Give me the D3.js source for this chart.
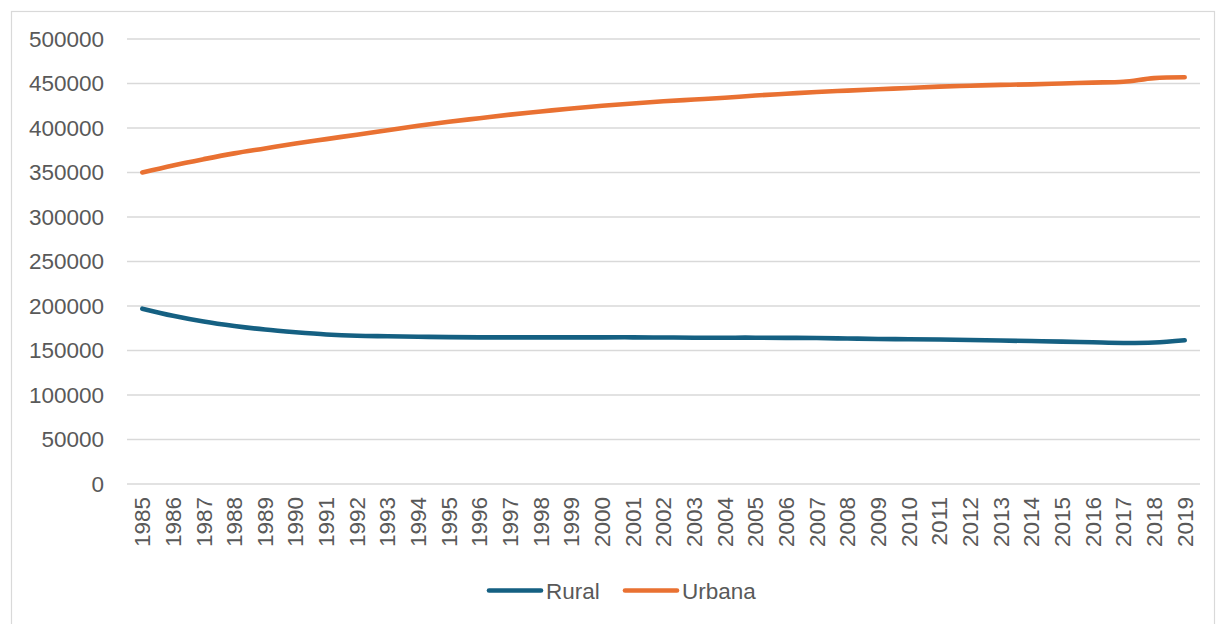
<!DOCTYPE html>
<html>
<head>
<meta charset="utf-8">
<script src="https://cdn.jsdelivr.net/npm/d3@7"></script>
<style>
  html, body { margin: 0; padding: 0; background: #fff; }
  svg { display: block; font-family: "Liberation Sans", Arial, sans-serif; }
</style>
</head>
<body>
<svg id="chart" width="1216" height="624"></svg>
<script>
// Population by area, 1985–2019
const years = ["1985","1986","1987","1988","1989","1990","1991","1992","1993","1994",
  "1995","1996","1997","1998","1999","2000","2001","2002","2003","2004",
  "2005","2006","2007","2008","2009","2010","2011","2012","2013","2014",
  "2015","2016","2017","2018","2019"];

const rural = [197000,189000,182500,177500,173500,170500,168000,166500,166000,165500,
  165000,164800,164800,164800,164800,164800,164800,164600,164400,164400,
  164400,164200,164000,163500,163000,162700,162300,161800,161200,160600,
  160000,159200,158500,159000,161500];

const urbana = [350000,358000,365000,371500,377000,382500,387500,392500,397500,402500,
  407000,411000,415000,418500,422000,425000,427500,430000,432000,434000,
  436500,438500,440500,442000,443500,445000,446500,447500,448500,449000,
  450000,451000,452000,456000,457000];

const yTicks = [0,50000,100000,150000,200000,250000,300000,350000,400000,450000,500000];

const seriesNames = ["Rural", "Urbana"];
const seriesColors = ["#156082", "#E97132"];
const seriesValues = [rural, urbana];

const svg = d3.select("#chart");
const textColor = "#595959";
const gridColor = "#d9d9d9";
const fontSize = 22.5;

// chart frame
svg.append("rect")
  .attr("x", 11.5).attr("y", 11.5)
  .attr("width", 1203).attr("height", 640)
  .attr("fill", "#fff")
  .attr("stroke", gridColor).attr("stroke-width", 1.2);

const plot = { left: 127, right: 1200, top: 39, bottom: 484 };

const x = d3.scaleBand().domain(years).range([plot.left, plot.right]).padding(0);
const y = d3.scaleLinear().domain([0, 500000]).range([plot.bottom, plot.top]);
const xc = d => x(d) + x.bandwidth() / 2;

// horizontal gridlines
svg.append("g")
  .selectAll("line")
  .data(yTicks)
  .join("line")
  .attr("x1", plot.left).attr("x2", plot.right)
  .attr("y1", d => y(d)).attr("y2", d => y(d))
  .attr("stroke", gridColor).attr("stroke-width", 1.3);

// y axis labels
const yAxis = d3.axisLeft(y).tickValues(yTicks).tickSize(0).tickPadding(0)
  .tickFormat(d3.format("d"));
const gy = svg.append("g").attr("transform", "translate(104,0)").call(yAxis);
gy.select(".domain").remove();
gy.selectAll("text")
  .attr("fill", textColor)
  .attr("font-size", fontSize)
  .attr("font-family", "Liberation Sans, Arial, sans-serif");

// x axis labels, rotated
const xAxis = d3.axisBottom(x).tickSize(0).tickPadding(0);
const gx = svg.append("g").attr("transform", `translate(0,${plot.bottom})`).call(xAxis);
gx.select(".domain").remove();
gx.selectAll("text")
  .attr("fill", textColor)
  .attr("font-size", fontSize)
  .attr("font-family", "Liberation Sans, Arial, sans-serif")
  .attr("transform", "rotate(-90)")
  .attr("text-anchor", "end")
  .attr("x", -13)
  .attr("y", 0)
  .attr("dy", "0.35em");

// series lines
const line = d3.line()
  .x((d, i) => xc(years[i]))
  .y(d => y(d))
  .curve(d3.curveCatmullRom.alpha(0.5));

seriesValues.forEach((vals, k) => {
  svg.append("path")
    .datum(vals)
    .attr("d", line)
    .attr("fill", "none")
    .attr("stroke", seriesColors[k])
    .attr("stroke-width", 4.6)
    .attr("stroke-linecap", "round")
    .attr("stroke-linejoin", "round");
});

// legend
const legendItems = [
  { name: seriesNames[0], color: seriesColors[0], x0: 489 },
  { name: seriesNames[1], color: seriesColors[1], x0: 625 }
];
const lg = svg.append("g");
legendItems.forEach(it => {
  lg.append("line")
    .attr("x1", it.x0).attr("x2", it.x0 + 52)
    .attr("y1", 590.5).attr("y2", 590.5)
    .attr("stroke", it.color).attr("stroke-width", 4.6)
    .attr("stroke-linecap", "round");
  lg.append("text")
    .attr("x", it.x0 + 57).attr("y", 590.5)
    .attr("dy", "0.36em")
    .attr("fill", textColor)
    .attr("font-size", fontSize)
    .text(it.name);
});
</script>
</body>
</html>
